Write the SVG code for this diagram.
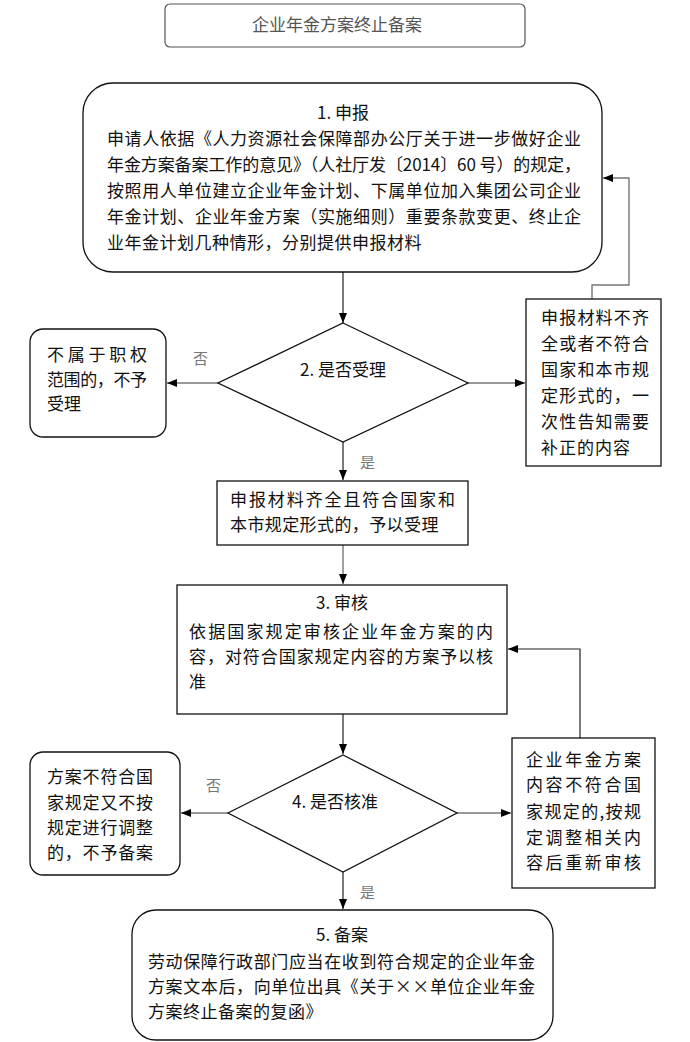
<svg xmlns="http://www.w3.org/2000/svg" width="690" height="1042" viewBox="0 0 690 1042">
<defs>
<style>
text{font-family:"Noto Sans CJK SC","Liberation Sans",sans-serif;font-size:17px;fill:#111}
.t{fill:#555}
.lbl{fill:#777;font-size:15px}
.box{fill:#fff;stroke:#111;stroke-width:1.3}
.gbox{fill:#fff;stroke:#555;stroke-width:1.2}
.c{fill:none;stroke:#222;stroke-width:1.2}
.cg{fill:none;stroke:#777;stroke-width:1.4}
.mid{text-anchor:middle}
</style>
<marker id="ah" markerUnits="userSpaceOnUse" markerWidth="11" markerHeight="9" refX="10" refY="4" orient="auto">
<path d="M0,0 L10,4 L0,8 z" fill="#000"/>
</marker>
</defs>
<rect width="690" height="1042" fill="#fff"/>

<g id="title">
<rect class="gbox" x="165" y="4" width="360" height="43" rx="5"/>
<text class="t mid" x="337" y="31">企业年金方案终止备案</text>
</g>

<g id="connectors">
<path class="c" d="M343,272 V323" marker-end="url(#ah)"/>
<path class="cg" d="M218,383 H167" marker-end="url(#ah)"/>
<path class="cg" d="M468,383 H525" marker-end="url(#ah)"/>
<path class="c" d="M343,442 V480" marker-end="url(#ah)"/>
<path class="cg" d="M592,299 V285 H629 V178 H603" marker-end="url(#ah)"/>
<path class="cg" d="M343,545 V584" marker-end="url(#ah)"/>
<path class="c" d="M580,738 V649 H508" marker-end="url(#ah)"/>
<path class="c" d="M343,714 V754" marker-end="url(#ah)"/>
<path class="cg" d="M228,813 H181" marker-end="url(#ah)"/>
<path class="cg" d="M457,813 H511" marker-end="url(#ah)"/>
<path class="c" d="M343,872 V909" marker-end="url(#ah)"/>
<text class="lbl" x="193" y="364">否</text>
<text class="lbl" x="360" y="468">是</text>
<text class="lbl" x="206" y="791">否</text>
<text class="lbl" x="360" y="898">是</text>
</g>

<g id="n1">
<rect class="box" x="83" y="83" width="519" height="189" rx="30"/>
<text class="mid" x="343" y="119">1. 申报</text>
<text x="107" y="145" textLength="474" lengthAdjust="spacing">申请人依据《人力资源社会保障部办公厅关于进一步做好企业</text>
<text x="107" y="171" textLength="474" lengthAdjust="spacing">年金方案备案工作的意见》（人社厅发〔2014〕60 号）的规定，</text>
<text x="107" y="197" textLength="474" lengthAdjust="spacing">按照用人单位建立企业年金计划、下属单位加入集团公司企业</text>
<text x="107" y="223" textLength="474" lengthAdjust="spacing">年金计划、企业年金方案（实施细则）重要条款变更、终止企</text>
<text x="107" y="249" letter-spacing="0.5">业年金计划几种情形，分别提供申报材料</text>
</g>

<g id="n2">
<polygon class="box" points="343,323 468,383 343,442 218,383"/>
<text class="mid" x="343" y="376">2. 是否受理</text>
</g>

<g id="n2no">
<rect class="box" x="30" y="329" width="136" height="108" rx="13"/>
<text x="47" y="361" textLength="100" lengthAdjust="spacing">不属于职权</text>
<text x="47" y="386" textLength="100" lengthAdjust="spacing">范围的，不予</text>
<text x="47" y="410">受理</text>
</g>

<g id="n2fix">
<rect class="box" x="526" y="299" width="135" height="167"/>
<text x="541" y="324" textLength="108" lengthAdjust="spacing">申报材料不齐</text>
<text x="541" y="350" textLength="108" lengthAdjust="spacing">全或者不符合</text>
<text x="541" y="376" textLength="108" lengthAdjust="spacing">国家和本市规</text>
<text x="541" y="402" textLength="108" lengthAdjust="spacing">定形式的，一</text>
<text x="541" y="428" textLength="108" lengthAdjust="spacing">次性告知需要</text>
<text x="541" y="454" letter-spacing="1">补正的内容</text>
</g>

<g id="n2yes">
<rect class="box" x="217" y="481" width="251" height="64"/>
<text x="230" y="506" textLength="225" lengthAdjust="spacing">申报材料齐全且符合国家和</text>
<text x="230" y="531" letter-spacing="0.4">本市规定形式的，予以受理</text>
</g>

<g id="n3">
<rect class="box" x="177" y="585" width="330" height="129"/>
<text class="mid" x="342" y="609">3. 审核</text>
<text x="189" y="638" textLength="304" lengthAdjust="spacing">依据国家规定审核企业年金方案的内</text>
<text x="189" y="663" textLength="304" lengthAdjust="spacing">容，对符合国家规定内容的方案予以核</text>
<text x="189" y="688">准</text>
</g>

<g id="n4">
<polygon class="box" points="343,755 457,813 343,872 228,813"/>
<text class="mid" x="335" y="808">4. 是否核准</text>
</g>

<g id="n4no">
<rect class="box" x="30" y="752" width="150" height="123" rx="13"/>
<text x="47" y="783" textLength="106" lengthAdjust="spacing">方案不符合国</text>
<text x="47" y="809" textLength="106" lengthAdjust="spacing">家规定又不按</text>
<text x="47" y="834" textLength="106" lengthAdjust="spacing">规定进行调整</text>
<text x="47" y="859" textLength="106" lengthAdjust="spacing">的，不予备案</text>
</g>

<g id="n4fix">
<rect class="box" x="512" y="738" width="143" height="150"/>
<text x="526" y="766" textLength="115" lengthAdjust="spacing">企业年金方案</text>
<text x="526" y="791" textLength="115" lengthAdjust="spacing">内容不符合国</text>
<text x="526" y="818" textLength="115" lengthAdjust="spacing">家规定的,按规</text>
<text x="526" y="844" textLength="115" lengthAdjust="spacing">定调整相关内</text>
<text x="526" y="869" textLength="115" lengthAdjust="spacing">容后重新审核</text>
</g>

<g id="n5">
<rect class="box" x="132" y="910" width="421" height="130" rx="24"/>
<text class="mid" x="342" y="941">5. 备案</text>
<text x="148" y="968" textLength="387" lengthAdjust="spacing">劳动保障行政部门应当在收到符合规定的企业年金</text>
<text x="148" y="993" textLength="387" lengthAdjust="spacing">方案文本后，向单位出具《关于××单位企业年金</text>
<text x="148" y="1018" letter-spacing="0.5">方案终止备案的复函》</text>
</g>
</svg>
